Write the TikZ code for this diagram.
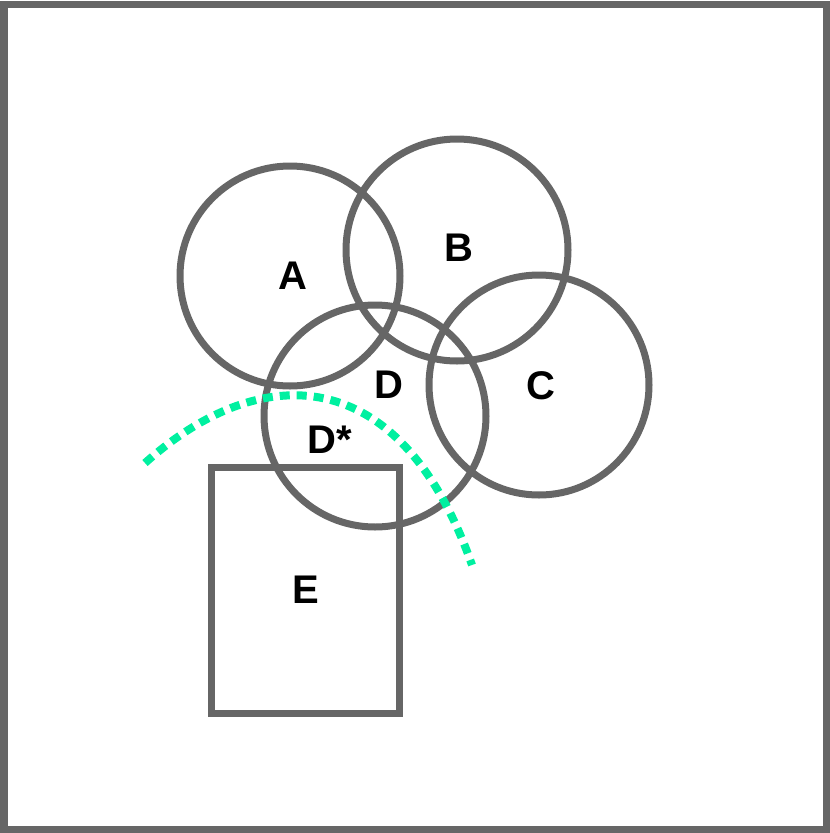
\documentclass[tikz,border=0pt]{standalone}
\usepackage{fontspec}
\setmainfont{Liberation Sans}
\begin{document}
\begin{tikzpicture}[x=1pt,y=-1pt,
  shp/.style={draw=gray!60!black!100,draw opacity=1,line width=7pt},
  lbl/.style={font=\fontsize{40}{40}\selectfont\bfseries,inner sep=0pt}]
\definecolor{edge}{HTML}{666666}
\definecolor{grn}{HTML}{00F0A0}
\useasboundingbox (0,0) rectangle (830,833);
\draw[draw=edge,line width=7pt] (4,4) rectangle (826,829);
\node[draw=edge,line width=7pt,circle,minimum size=220pt] (A) at (290,276) {};
\node[draw=edge,line width=7pt,circle,minimum size=222pt] (B) at (457,250) {};
\node[draw=edge,line width=7pt,circle,minimum size=220pt] (C) at (539,385) {};
\node[draw=edge,line width=7pt,circle,minimum size=222pt] (D) at (375,416) {};
\node[draw=edge,line width=7pt,rectangle,minimum width=188pt,minimum height=246pt] (E) at (305,590) {};
\coordinate (s) at (145,463);
\coordinate (t) at (472,565);
\draw[grn,line width=8pt,dash pattern=on 10pt off 7pt] (s) .. controls (260,360) and (400,360) .. (t);
\node[lbl] (la) at (293,276) {A};
\node[lbl] (lb) at (459,248) {B};
\node[lbl] (lc) at (541,386) {C};
\node[lbl] (ld) at (389,385) {D};
\node[lbl] (lds) at (330,440) {D*};
\node[lbl] (le) at (306,590) {E};
\end{tikzpicture}
\end{document}
